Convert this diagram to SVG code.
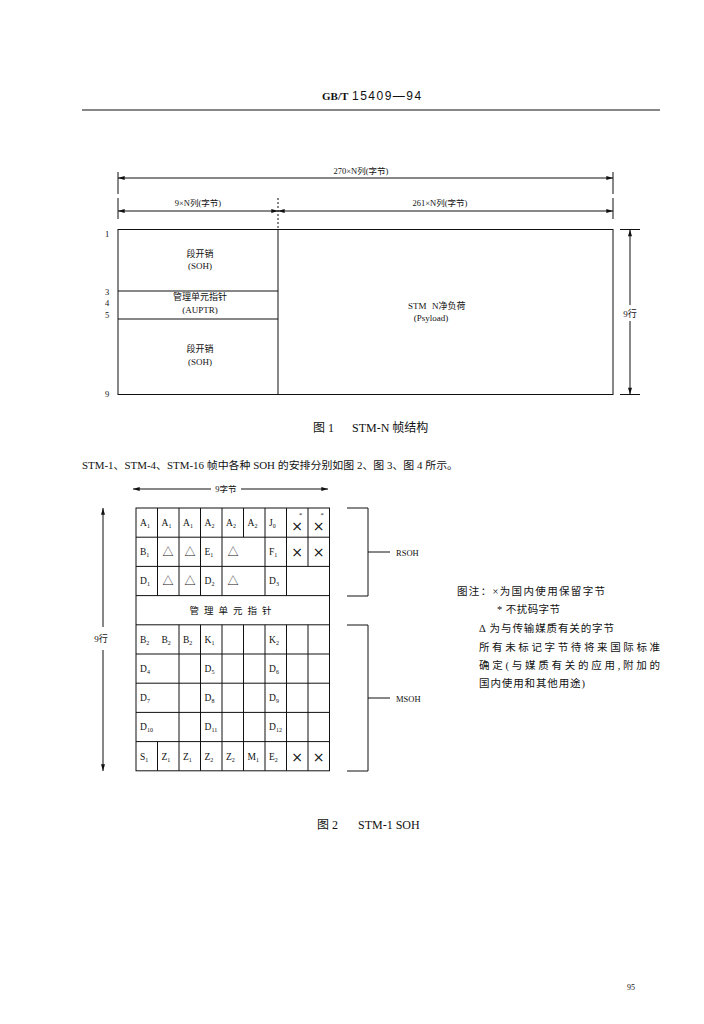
<svg xmlns="http://www.w3.org/2000/svg" width="704" height="1024" viewBox="0 0 704 1024">
<style>
.ln{stroke:#111;stroke-width:1;fill:none}
.lnd{stroke:#111;stroke-width:1;fill:none;stroke-dasharray:2 2}
.cj{font-family:"Liberation Serif","Noto Sans CJK SC",serif;fill:#111}
.sr{font-family:"Liberation Serif",serif;fill:#111}
.c{text-anchor:middle}
.cell{font-family:"Liberation Serif",serif;font-size:9.5px;fill:#111}
.sub{font-size:6px}
.sym{font-family:"Noto Sans CJK SC","DejaVu Sans",sans-serif;font-size:11px;fill:#111;text-anchor:middle}
.x{font-family:"DejaVu Sans",sans-serif;font-size:14px;fill:#111;text-anchor:middle}
</style>
<defs>
<marker id="ar" viewBox="0 0 10 6" refX="10" refY="3" markerWidth="8" markerHeight="4" orient="auto-start-reverse" markerUnits="userSpaceOnUse">
<path d="M0,0 L10,3 L0,6 z" fill="#111"/>
</marker>
</defs>
<rect width="704" height="1024" fill="#fff"/>

<!-- header -->
<g id="header">
<text x="322" y="100" font-family="Liberation Serif" font-weight="bold" font-size="11" fill="#111">GB/T</text>
<text x="352" y="100" font-family="Liberation Sans" font-size="12" fill="#111" letter-spacing="1.5">15409—94</text>
<line x1="82" y1="110" x2="660" y2="110" class="ln" stroke-width="0.8"/>
</g>

<!-- Figure 1 -->
<g id="fig1-dims">
<line x1="118" y1="172" x2="118" y2="194" class="ln"/>
<line x1="613" y1="172" x2="613" y2="194" class="ln"/>
<line x1="118" y1="178" x2="613" y2="178" class="ln" marker-start="url(#ar)" marker-end="url(#ar)"/>
<text x="361" y="174" class="cj c" font-size="8.5">270×N列(字节)</text>
<line x1="118" y1="198" x2="118" y2="219" class="ln"/>
<line x1="613" y1="198" x2="613" y2="219" class="ln"/>
<line x1="278" y1="198" x2="278" y2="229" class="lnd"/>
<line x1="118" y1="211" x2="278" y2="211" class="ln" marker-start="url(#ar)" marker-end="url(#ar)"/>
<line x1="278" y1="211" x2="613" y2="211" class="ln" marker-start="url(#ar)" marker-end="url(#ar)"/>
<text x="198" y="206" class="cj c" font-size="8.5">9×N列(字节)</text>
<text x="440" y="206" class="cj c" font-size="8.5">261×N列(字节)</text>
</g>

<g id="fig1-frame">
<rect x="118" y="229.5" width="495" height="165" class="ln"/>
<line x1="278" y1="229.5" x2="278" y2="394.5" class="ln"/>
<line x1="118" y1="291" x2="278" y2="291" class="ln"/>
<line x1="118" y1="319" x2="278" y2="319" class="ln"/>
</g>

<g id="fig1-soh-top">
<text x="200" y="257" class="cj c" font-size="9">段开销</text>
<text x="200" y="269" class="cj c" font-size="9">(SOH)</text>
</g>
<g id="fig1-auptr">
<text x="200" y="300" class="cj c" font-size="9">管理单元指针</text>
<text x="200" y="313" class="cj c" font-size="9">(AUPTR)</text>
</g>
<g id="fig1-soh-bottom">
<text x="200" y="352" class="cj c" font-size="9">段开销</text>
<text x="200" y="365" class="cj c" font-size="9">(SOH)</text>
</g>
<g id="fig1-payload">
<text x="408" y="309" class="cj" font-size="9">STM</text>
<text x="432" y="309" class="cj" font-size="9">N净负荷</text>
<text x="431" y="321" class="cj c" font-size="9">(Psyload)</text>
</g>

<g id="fig1-rows">
<text x="107" y="237" class="sr c" font-size="8.5">1</text>
<text x="107" y="295" class="sr c" font-size="8.5">3</text>
<text x="107" y="306" class="sr c" font-size="8.5">4</text>
<text x="107" y="318" class="sr c" font-size="8.5">5</text>
<text x="107" y="397" class="sr c" font-size="8.5">9</text>
</g>

<g id="fig1-rowdim">
<line x1="620" y1="229.5" x2="640" y2="229.5" class="ln"/>
<line x1="620" y1="394.5" x2="640" y2="394.5" class="ln"/>
<line x1="630" y1="229.5" x2="630" y2="305" class="ln" marker-start="url(#ar)"/>
<line x1="630" y1="321" x2="630" y2="394.5" class="ln" marker-end="url(#ar)"/>
<text x="630" y="317" class="cj c" font-size="9">9行</text>
</g>

<g id="cap1">
<text x="313" y="432" class="cj" font-size="12">图 1</text>
<text x="352" y="432" class="cj" font-size="12">STM-N 帧结构</text>
</g>

<text id="para" x="82" y="469" class="cj" font-size="10.5" textLength="376" lengthAdjust="spacingAndGlyphs">STM-1、STM-4、STM-16 帧中各种 SOH 的安排分别如图 2、图 3、图 4 所示。</text>

<!-- Figure 2 -->
<g id="fig2-bytedim">
<line x1="133" y1="489" x2="211" y2="489" class="ln" marker-start="url(#ar)"/>
<line x1="241" y1="489" x2="328" y2="489" class="ln" marker-end="url(#ar)"/>
<text x="226" y="492" class="cj c" font-size="8.5">9字节</text>
</g>

<g id="fig2-rowdim">
<line x1="103" y1="508" x2="103" y2="627" class="ln" marker-start="url(#ar)"/>
<line x1="103" y1="650" x2="103" y2="771" class="ln" marker-end="url(#ar)"/>
<text x="101" y="642" class="cj c" font-size="9">9行</text>
</g>

<g id="fig2-grid">
<rect x="136" y="508" width="193.5" height="262.8" class="ln"/>
<path class="ln" d="M136,537.2H329.5 M136,566.4H329.5 M136,595.6H329.5 M136,624.8H329.5 M136,654H329.5 M136,683.2H329.5 M136,712.4H329.5 M136,741.6H329.5"/>
<path class="ln" d="M157.5,508V595.6 M157.5,741.6V770.8
M179,508V595.6 M179,624.8V770.8
M200.5,508V595.6 M200.5,624.8V770.8
M222,508V595.6 M222,624.8V770.8
M243.5,508V537.2 M243.5,624.8V770.8
M265,508V595.6 M265,624.8V770.8
M286.5,508V595.6 M286.5,624.8V770.8
M308,508V566.4 M308,624.8V770.8"/>
</g>

<g id="fig2-row1">
<text x="140" y="526" class="cell">A<tspan dy="2" class="sub">1</tspan></text>
<text x="161.5" y="526" class="cell">A<tspan dy="2" class="sub">1</tspan></text>
<text x="183" y="526" class="cell">A<tspan dy="2" class="sub">1</tspan></text>
<text x="204.5" y="526" class="cell">A<tspan dy="2" class="sub">2</tspan></text>
<text x="226" y="526" class="cell">A<tspan dy="2" class="sub">2</tspan></text>
<text x="247.5" y="526" class="cell">A<tspan dy="2" class="sub">2</tspan></text>
<text x="269" y="526" class="cell">J<tspan dy="2" class="sub">0</tspan></text>
<text x="297" y="531" class="x">×</text>
<text x="299" y="517" class="sr" font-size="6.5">*</text>
<text x="318.5" y="531" class="x">×</text>
<text x="320.5" y="517" class="sr" font-size="6.5">*</text>
</g>
<g id="fig2-row2">
<text x="140" y="555" class="cell">B<tspan dy="2" class="sub">1</tspan></text>
<text x="168" y="556" class="sym">△</text>
<text x="190" y="556" class="sym">△</text>
<text x="204.5" y="555" class="cell">E<tspan dy="2" class="sub">1</tspan></text>
<text x="233" y="556" class="sym">△</text>
<text x="269" y="555" class="cell">F<tspan dy="2" class="sub">1</tspan></text>
<text x="297" y="557" class="x">×</text>
<text x="318.5" y="557" class="x">×</text>
</g>
<g id="fig2-row3">
<text x="140" y="584" class="cell">D<tspan dy="2" class="sub">1</tspan></text>
<text x="168" y="585" class="sym">△</text>
<text x="190" y="585" class="sym">△</text>
<text x="204.5" y="584" class="cell">D<tspan dy="2" class="sub">2</tspan></text>
<text x="233" y="585" class="sym">△</text>
<text x="269" y="584" class="cell">D<tspan dy="2" class="sub">3</tspan></text>
</g>
<g id="fig2-row4">
<text x="233" y="614" class="cj c" font-size="9.5" letter-spacing="5">管理单元指针</text>
</g>
<g id="fig2-row5">
<text x="140" y="643" class="cell">B<tspan dy="2" class="sub">2</tspan></text>
<text x="161.5" y="643" class="cell">B<tspan dy="2" class="sub">2</tspan></text>
<text x="183" y="643" class="cell">B<tspan dy="2" class="sub">2</tspan></text>
<text x="204.5" y="643" class="cell">K<tspan dy="2" class="sub">1</tspan></text>
<text x="269" y="643" class="cell">K<tspan dy="2" class="sub">2</tspan></text>
</g>
<g id="fig2-row6">
<text x="140" y="672" class="cell">D<tspan dy="2" class="sub">4</tspan></text>
<text x="204.5" y="672" class="cell">D<tspan dy="2" class="sub">5</tspan></text>
<text x="269" y="672" class="cell">D<tspan dy="2" class="sub">6</tspan></text>
</g>
<g id="fig2-row7">
<text x="140" y="701" class="cell">D<tspan dy="2" class="sub">7</tspan></text>
<text x="204.5" y="701" class="cell">D<tspan dy="2" class="sub">8</tspan></text>
<text x="269" y="701" class="cell">D<tspan dy="2" class="sub">9</tspan></text>
</g>
<g id="fig2-row8">
<text x="140" y="730" class="cell">D<tspan dy="2" class="sub">10</tspan></text>
<text x="204.5" y="730" class="cell">D<tspan dy="2" class="sub">11</tspan></text>
<text x="269" y="730" class="cell">D<tspan dy="2" class="sub">12</tspan></text>
</g>
<g id="fig2-row9">
<text x="140" y="760" class="cell">S<tspan dy="2" class="sub">1</tspan></text>
<text x="161.5" y="760" class="cell">Z<tspan dy="2" class="sub">1</tspan></text>
<text x="183" y="760" class="cell">Z<tspan dy="2" class="sub">1</tspan></text>
<text x="204.5" y="760" class="cell">Z<tspan dy="2" class="sub">2</tspan></text>
<text x="226" y="760" class="cell">Z<tspan dy="2" class="sub">2</tspan></text>
<text x="247.5" y="760" class="cell">M<tspan dy="2" class="sub">1</tspan></text>
<text x="269" y="760" class="cell">E<tspan dy="2" class="sub">2</tspan></text>
<text x="297" y="762" class="x">×</text>
<text x="318.5" y="762" class="x">×</text>
</g>

<g id="rsoh">
<path class="ln" d="M347,508H368V596H347 M368,552H390"/>
<text x="396" y="555.5" class="sr" font-size="8.5">RSOH</text>
</g>
<g id="msoh">
<path class="ln" d="M347,625H368V771H347 M368,698H390"/>
<text x="396" y="701.5" class="sr" font-size="8.5">MSOH</text>
</g>

<g id="legend" class="cj" font-size="10.5">
<text x="457" y="595" textLength="148" lengthAdjust="spacing">图注：×为国内使用保留字节</text>
<text x="497" y="613" textLength="63" lengthAdjust="spacing">* 不扰码字节</text>
<text x="479" y="632" textLength="135" lengthAdjust="spacing">Δ 为与传输媒质有关的字节</text>
<text x="479" y="651" textLength="181" lengthAdjust="spacing">所有未标记字节待将来国际标准</text>
<text x="479" y="669" textLength="181" lengthAdjust="spacing">确定(与媒质有关的应用,附加的</text>
<text x="479" y="687" textLength="106" lengthAdjust="spacing">国内使用和其他用途)</text>
</g>

<g id="cap2">
<text x="317" y="829" class="cj" font-size="12">图 2</text>
<text x="358" y="829" class="cj" font-size="12">STM-1 SOH</text>
</g>

<text id="pageno" x="631" y="990" class="sr c" font-size="8">95</text>
</svg>
